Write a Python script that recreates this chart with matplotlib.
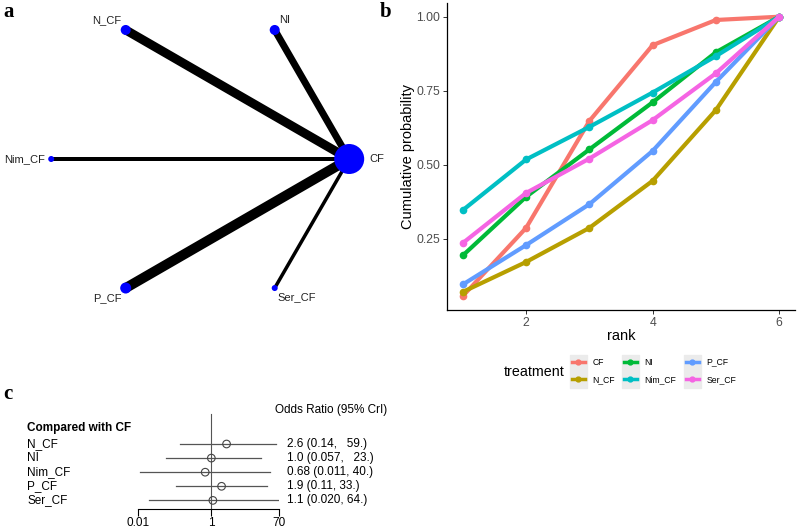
import matplotlib.pyplot as plt
import matplotlib.transforms as mtransforms
from matplotlib.lines import Line2D
from matplotlib.patches import Rectangle
import numpy as np

plt.rcParams['font.family'] = ['Liberation Sans', 'DejaVu Sans']

# ---- data ----
treatments = ['CF', 'N_CF', 'NI', 'Nim_CF', 'P_CF', 'Ser_CF']
colors = ['#F8766D', '#B79F00', '#00BA38', '#00BFC4', '#619CFF', '#F564E3']

# network (panel a)
net_nodes = ['CF', 'NI', 'N_CF', 'Nim_CF', 'P_CF', 'Ser_CF']
node_radius = [15, 5, 5, 3, 5.5, 3]          # px
edge_to = ['NI', 'N_CF', 'Nim_CF', 'P_CF', 'Ser_CF']
edge_width = [7, 9, 4, 10, 3.5]              # px

# cumulative ranking (panel b)
rank = [1, 2, 3, 4, 5, 6]
cum_prob = {
    'CF':     [0.057, 0.287, 0.648, 0.904, 0.989, 1.0],
    'N_CF':   [0.071, 0.172, 0.287, 0.446, 0.685, 1.0],
    'NI':     [0.194, 0.392, 0.552, 0.711, 0.880, 1.0],
    'Nim_CF': [0.347, 0.518, 0.628, 0.744, 0.867, 1.0],
    'P_CF':   [0.096, 0.229, 0.367, 0.547, 0.780, 1.0],
    'Ser_CF': [0.236, 0.405, 0.521, 0.651, 0.809, 1.0],
}

# forest plot (panel c)
forest_names = ['N_CF', 'NI', 'Nim_CF', 'P_CF', 'Ser_CF']
odds = [2.6, 1.0, 0.68, 1.9, 1.1]
lower = [0.14, 0.057, 0.011, 0.11, 0.020]
upper = [59., 23., 40., 33., 64.]
forest_text = ['2.6 (0.14,   59.)', '1.0 (0.057,   23.)', '0.68 (0.011, 40.)',
               '1.9 (0.11, 33.)', '1.1 (0.020, 64.)']

W, H = 798, 530
fig = plt.figure(figsize=(W / 100, H / 100), dpi=100)


def fx(px):
    return px / W


def fy(py):
    return 1 - py / H


# ---- panel a: network, drawn in pixel coords ----
ax_a = fig.add_axes([0, 0, 1, 1])
ax_a.set_xlim(0, W)
ax_a.set_ylim(H, 0)
ax_a.axis('off')
cx, cy, rad = 200.2, 159, 149
ang = np.deg2rad(np.arange(len(net_nodes)) * 60)
pos = {n: (cx + rad * np.cos(a), cy - rad * np.sin(a)) for n, a in zip(net_nodes, ang)}
for n, w in zip(edge_to, edge_width):
    x0, y0 = pos['CF']
    x1, y1 = pos[n]
    ax_a.plot([x0, x1], [y0, y1], color='black', lw=w * 0.72, solid_capstyle='butt', zorder=1)
for n, r in zip(net_nodes, node_radius):
    ax_a.scatter(*pos[n], s=(2 * r * 0.72) ** 2, color='#0000FF', edgecolors='none', zorder=2)
lab_off = {'CF': (20, 0, 'left', 'center'), 'NI': (4, -5, 'left', 'bottom'),
           'N_CF': (-4, -5, 'right', 'bottom'), 'Nim_CF': (-6, 0, 'right', 'center'),
           'P_CF': (-4, 5, 'right', 'top'), 'Ser_CF': (3, 4, 'left', 'top')}
for n in net_nodes:
    dx, dy, ha, va = lab_off[n]
    ax_a.text(pos[n][0] + dx, pos[n][1] + dy, n, ha=ha, va=va, fontsize=8, color='#222222')

# panel letters
for letter, (px, py) in zip('abc', [(3, 2), (380, 2), (3, 384)]):
    fig.text(fx(px), fy(py), letter, fontsize=15, fontweight='bold',
             family='Liberation Serif', ha='left', va='top')

# ---- panel b: cumulative ranking ----
ax_b = fig.add_axes([fx(447), fy(310), fx(795) - fx(447), fy(2.8) - fy(310)])
handles = []
for t, c in zip(treatments, colors):
    ax_b.plot(rank, cum_prob[t], color=c, lw=3, marker='o', ms=4.5, solid_capstyle='round')
    handles.append(Line2D([], [], color=c, lw=2.5, marker='o', ms=3.5))
ax_b.set_xlim(0.75, 6.25)
ax_b.set_ylim(0.0099, 1.047)
ax_b.set_xticks([2, 4, 6])
ax_b.set_yticks([0.25, 0.5, 0.75, 1.0])
ax_b.set_yticklabels(['0.25', '0.50', '0.75', '1.00'])
ax_b.tick_params(labelsize=8.8, colors='#333333', labelcolor='#4D4D4D', length=3, width=0.7, pad=2)
for s in ['top', 'right']:
    ax_b.spines[s].set_visible(False)
for s in ['left', 'bottom']:
    ax_b.spines[s].set_linewidth(0.9)
ax_b.set_xlabel('rank', fontsize=10.5, labelpad=0)
ax_b.set_ylabel('Cumulative probability', fontsize=10.5, labelpad=0.5)

# legend: grey key backgrounds and one legend per column
key_left = [572, 624, 686]
for kx in key_left:
    fig.patches.append(Rectangle((fx(kx - 2), fy(388)), fx(17), fy(355) - fy(388),
                                 transform=fig.transFigure, color='#EBEBEB', zorder=0))
for j, kx in enumerate(key_left):
    fig.legend(handles[2 * j:2 * j + 2], treatments[2 * j:2 * j + 2], loc='center left',
               bbox_to_anchor=(fx(kx), fy(371)), frameon=False, fontsize=6.2,
               handlelength=1.5, handletextpad=0.9, labelspacing=1.0,
               borderpad=0, borderaxespad=0)
fig.text(fx(504), fy(372), 'treatment', fontsize=10.3, ha='left', va='center')

# ---- panel c: forest plot ----
row_y = np.arange(len(forest_names))
top_px, bot_px = 405, 509
r0, dr = 444, 14.1
ax_c = fig.add_axes([fx(138), fy(bot_px), fx(279) - fx(138), fy(top_px) - fy(bot_px)])
ax_c.set_xscale('log')
ax_c.set_xlim(0.01, 70)
ax_c.set_ylim((bot_px - r0) / dr, (top_px - r0) / dr)
ax_c.axvline(1, ymin=0, ymax=(bot_px - 414) / (bot_px - top_px), color='#555555', lw=0.8)
for i in row_y:
    ax_c.plot([lower[i], upper[i]], [i, i], color='#555555', lw=0.9)
ax_c.scatter(odds, row_y, s=30, facecolors='none', edgecolors='#444444', linewidths=0.8, zorder=3)
for s in ['top', 'right', 'left']:
    ax_c.spines[s].set_visible(False)
ax_c.spines['bottom'].set_linewidth(0.8)
ax_c.set_yticks([])
ax_c.set_xticks([0.01, 1, 70])
ax_c.set_xticklabels(['0.01', '1', '70'])
ax_c.xaxis.set_minor_locator(plt.NullLocator())
ax_c.tick_params(axis='x', labelsize=8.5, length=5, width=0.8, pad=1)

tr = mtransforms.blended_transform_factory(fig.transFigure, ax_c.transData)
for i, (n, t) in enumerate(zip(forest_names, forest_text)):
    ax_c.text(fx(27), i, n, transform=tr, fontsize=8.5, va='center', ha='left', clip_on=False)
    ax_c.text(fx(287), i, t, transform=tr, fontsize=8.5, va='center', ha='left', clip_on=False)
fig.text(fx(27), fy(428), 'Compared with CF', fontsize=8.5, fontweight='bold', va='center')
fig.text(fx(275), fy(410), 'Odds Ratio (95% CrI)', fontsize=8.5, va='center')

fig.savefig('out.png', dpi=100)
